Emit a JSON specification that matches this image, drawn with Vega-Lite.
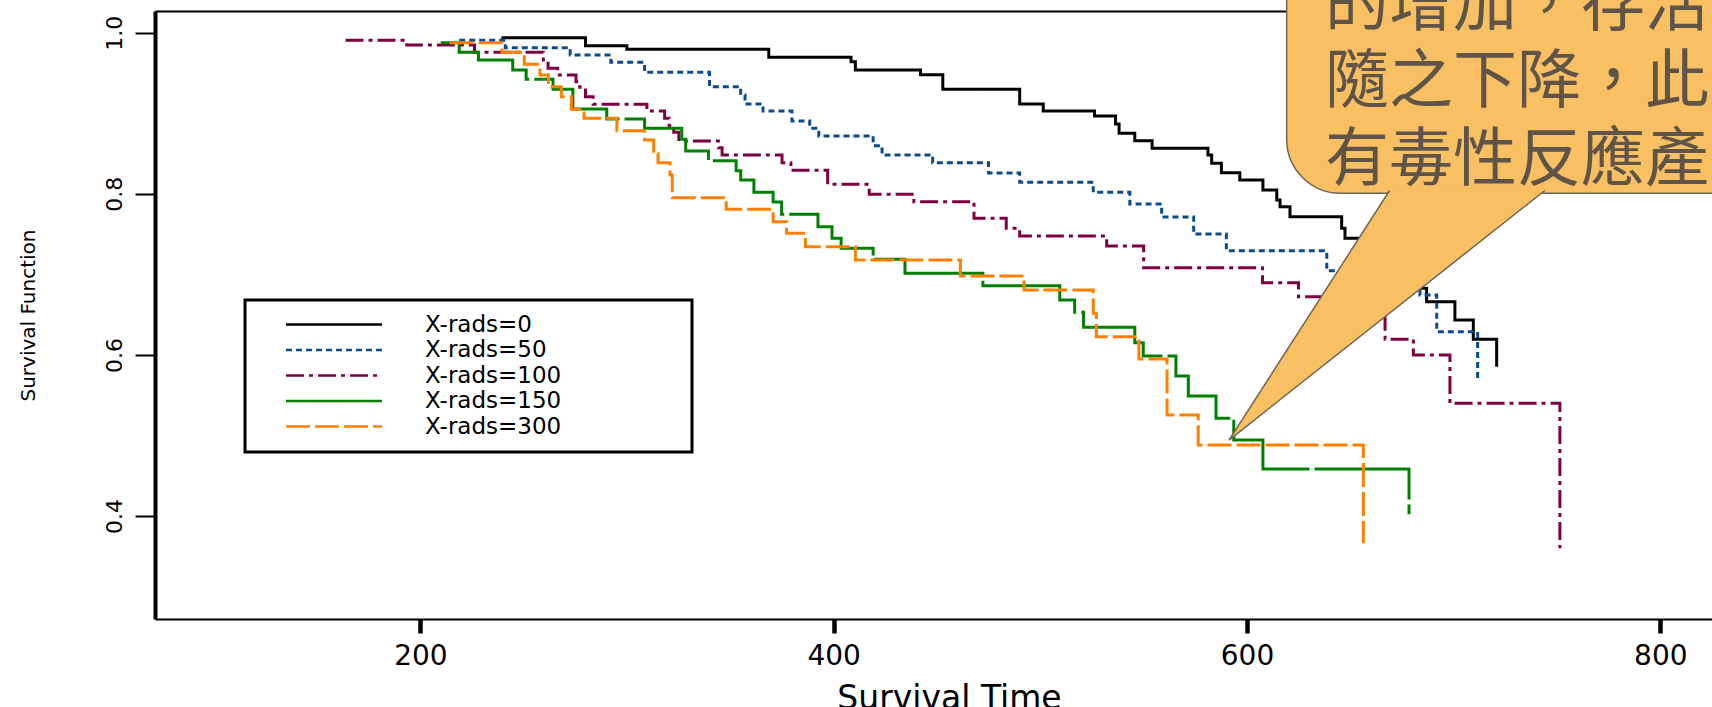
{
"$schema": "https://vega.github.io/schema/vega-lite/v6.json",
"width": 1557, "height": 608,
"autosize": {"type": "none"},
"padding": {"left": 155, "top": 11, "right": 0, "bottom": 88},
"background": "white",
"config": {
  "view": {"stroke": null},
  "axis": {"grid": false, "domainColor": "black", "tickColor": "black", "labelColor": "black", "titleColor": "black", "labelFont": "DejaVu Sans", "titleFont": "DejaVu Sans", "titleFontWeight": "normal", "labelFlush": false, "labelOverlap": false},
  "legend": {"strokeWidth": 3}
},
"datasets": {
  "surv": [
    {"g":"X-rads=0","t":239.2,"S":0.9938},{"g":"X-rads=0","t":279.9,"S":0.9839},{"g":"X-rads=0","t":299.9,"S":0.9794},{"g":"X-rads=0","t":368.6,"S":0.9695},{"g":"X-rads=0","t":408.4,"S":0.964},{"g":"X-rads=0","t":410.5,"S":0.9537},{"g":"X-rads=0","t":442.0,"S":0.9479},{"g":"X-rads=0","t":452.8,"S":0.9298},{"g":"X-rads=0","t":490.0,"S":0.9115},{"g":"X-rads=0","t":501.4,"S":0.9028},{"g":"X-rads=0","t":526.2,"S":0.8966},{"g":"X-rads=0","t":536.4,"S":0.8867},{"g":"X-rads=0","t":538.1,"S":0.8752},{"g":"X-rads=0","t":545.7,"S":0.866},{"g":"X-rads=0","t":554.1,"S":0.8565},{"g":"X-rads=0","t":581.1,"S":0.8482},{"g":"X-rads=0","t":582.9,"S":0.8379},{"g":"X-rads=0","t":587.6,"S":0.8262},{"g":"X-rads=0","t":596.5,"S":0.8172},{"g":"X-rads=0","t":607.7,"S":0.8048},{"g":"X-rads=0","t":614.4,"S":0.7923},{"g":"X-rads=0","t":616.0,"S":0.784},{"g":"X-rads=0","t":620.8,"S":0.7716},{"g":"X-rads=0","t":645.8,"S":0.7572},{"g":"X-rads=0","t":647.4,"S":0.7448},{"g":"X-rads=0","t":659.5,"S":0.7278},{"g":"X-rads=0","t":673.1,"S":0.7079},{"g":"X-rads=0","t":684.5,"S":0.6827},{"g":"X-rads=0","t":686.9,"S":0.666},{"g":"X-rads=0","t":700.6,"S":0.6433},{"g":"X-rads=0","t":709.5,"S":0.6194},{"g":"X-rads=0","t":720.8,"S":0.5854},
    {"g":"X-rads=50","t":218.8,"S":0.9906},{"g":"X-rads=50","t":241.1,"S":0.9814},{"g":"X-rads=50","t":272.5,"S":0.9724},{"g":"X-rads=50","t":292.2,"S":0.9633},{"g":"X-rads=50","t":308.5,"S":0.9509},{"g":"X-rads=50","t":339.9,"S":0.933},{"g":"X-rads=50","t":355.0,"S":0.9227},{"g":"X-rads=50","t":357.1,"S":0.9115},{"g":"X-rads=50","t":365.8,"S":0.9028},{"g":"X-rads=50","t":379.8,"S":0.8904},{"g":"X-rads=50","t":388.4,"S":0.8814},{"g":"X-rads=50","t":392.8,"S":0.8718},{"g":"X-rads=50","t":419.1,"S":0.8598},{"g":"X-rads=50","t":423.4,"S":0.8482},{"g":"X-rads=50","t":447.9,"S":0.8387},{"g":"X-rads=50","t":474.9,"S":0.8259},{"g":"X-rads=50","t":490.0,"S":0.8143},{"g":"X-rads=50","t":525.6,"S":0.8019},{"g":"X-rads=50","t":543.3,"S":0.7874},{"g":"X-rads=50","t":558.7,"S":0.7712},{"g":"X-rads=50","t":574.2,"S":0.7501},{"g":"X-rads=50","t":590.0,"S":0.7294},{"g":"X-rads=50","t":638.6,"S":0.7046},{"g":"X-rads=50","t":664.3,"S":0.6893},{"g":"X-rads=50","t":683.7,"S":0.6744},{"g":"X-rads=50","t":691.8,"S":0.6288},{"g":"X-rads=50","t":711.6,"S":0.5701},
    {"g":"X-rads=100","t":163.8,"S":0.9906},{"g":"X-rads=100","t":193.4,"S":0.9848},{"g":"X-rads=100","t":226.2,"S":0.9757},{"g":"X-rads=100","t":259.5,"S":0.9662},{"g":"X-rads=100","t":261.8,"S":0.9559},{"g":"X-rads=100","t":266.4,"S":0.9475},{"g":"X-rads=100","t":275.3,"S":0.9392},{"g":"X-rads=100","t":277.1,"S":0.9323},{"g":"X-rads=100","t":279.9,"S":0.9206},{"g":"X-rads=100","t":283.6,"S":0.9112},{"g":"X-rads=100","t":309.6,"S":0.9028},{"g":"X-rads=100","t":318.2,"S":0.8938},{"g":"X-rads=100","t":320.4,"S":0.8846},{"g":"X-rads=100","t":322.6,"S":0.8764},{"g":"X-rads=100","t":325.1,"S":0.8656},{"g":"X-rads=100","t":344.2,"S":0.8573},{"g":"X-rads=100","t":346.0,"S":0.8482},{"g":"X-rads=100","t":375.0,"S":0.8387},{"g":"X-rads=100","t":379.3,"S":0.8292},{"g":"X-rads=100","t":397.1,"S":0.8118},{"g":"X-rads=100","t":417.2,"S":0.7995},{"g":"X-rads=100","t":438.8,"S":0.7902},{"g":"X-rads=100","t":467.9,"S":0.7696},{"g":"X-rads=100","t":483.5,"S":0.7572},{"g":"X-rads=100","t":490.0,"S":0.7477},{"g":"X-rads=100","t":532.1,"S":0.7352},{"g":"X-rads=100","t":550.0,"S":0.7083},{"g":"X-rads=100","t":607.5,"S":0.6897},{"g":"X-rads=100","t":624.9,"S":0.6723},{"g":"X-rads=100","t":666.8,"S":0.6194},{"g":"X-rads=100","t":680.5,"S":0.5999},{"g":"X-rads=100","t":698.2,"S":0.5399},{"g":"X-rads=100","t":751.4,"S":0.3599},
    {"g":"X-rads=150","t":209.9,"S":0.9876},{"g":"X-rads=150","t":218.8,"S":0.9757},{"g":"X-rads=150","t":228.1,"S":0.9662},{"g":"X-rads=150","t":244.7,"S":0.9537},{"g":"X-rads=150","t":251.2,"S":0.9422},{"g":"X-rads=150","t":264.2,"S":0.9298},{"g":"X-rads=150","t":273.8,"S":0.9053},{"g":"X-rads=150","t":290.2,"S":0.8929},{"g":"X-rads=150","t":308.5,"S":0.8814},{"g":"X-rads=150","t":326.5,"S":0.8677},{"g":"X-rads=150","t":328.4,"S":0.8532},{"g":"X-rads=150","t":339.4,"S":0.8411},{"g":"X-rads=150","t":352.8,"S":0.8287},{"g":"X-rads=150","t":355.0,"S":0.8172},{"g":"X-rads=150","t":361.4,"S":0.8019},{"g":"X-rads=150","t":370.7,"S":0.7899},{"g":"X-rads=150","t":374.8,"S":0.7746},{"g":"X-rads=150","t":392.4,"S":0.7592},{"g":"X-rads=150","t":399.2,"S":0.7448},{"g":"X-rads=150","t":403.6,"S":0.7324},{"g":"X-rads=150","t":419.1,"S":0.7187},{"g":"X-rads=150","t":434.5,"S":0.7013},{"g":"X-rads=150","t":472.2,"S":0.6859},{"g":"X-rads=150","t":509.4,"S":0.6682},{"g":"X-rads=150","t":516.6,"S":0.6529},{"g":"X-rads=150","t":520.9,"S":0.6343},{"g":"X-rads=150","t":545.7,"S":0.6151},{"g":"X-rads=150","t":549.8,"S":0.5986},{"g":"X-rads=150","t":565.6,"S":0.5738},{"g":"X-rads=150","t":571.6,"S":0.549},{"g":"X-rads=150","t":585.0,"S":0.5213},{"g":"X-rads=150","t":593.6,"S":0.4943},{"g":"X-rads=150","t":607.7,"S":0.4583},{"g":"X-rads=150","t":678.4,"S":0.4021},
    {"g":"X-rads=300","t":214.2,"S":0.9876},{"g":"X-rads=300","t":239.5,"S":0.9757},{"g":"X-rads=300","t":250.3,"S":0.9608},{"g":"X-rads=300","t":257.9,"S":0.9475},{"g":"X-rads=300","t":262.0,"S":0.933},{"g":"X-rads=300","t":268.2,"S":0.9206},{"g":"X-rads=300","t":273.1,"S":0.905},{"g":"X-rads=300","t":279.2,"S":0.8938},{"g":"X-rads=300","t":295.1,"S":0.8784},{"g":"X-rads=300","t":308.5,"S":0.8668},{"g":"X-rads=300","t":312.9,"S":0.85},{"g":"X-rads=300","t":315.0,"S":0.8387},{"g":"X-rads=300","t":320.8,"S":0.8234},{"g":"X-rads=300","t":321.9,"S":0.7952},{"g":"X-rads=300","t":348.0,"S":0.7808},{"g":"X-rads=300","t":370.7,"S":0.7654},{"g":"X-rads=300","t":377.2,"S":0.751},{"g":"X-rads=300","t":386.3,"S":0.7344},{"g":"X-rads=300","t":410.5,"S":0.7178},{"g":"X-rads=300","t":461.3,"S":0.698},{"g":"X-rads=300","t":492.1,"S":0.6806},{"g":"X-rads=300","t":525.6,"S":0.6517},{"g":"X-rads=300","t":527.1,"S":0.6226},{"g":"X-rads=300","t":547.7,"S":0.5949},{"g":"X-rads=300","t":561.3,"S":0.5254},{"g":"X-rads=300","t":576.4,"S":0.4882},{"g":"X-rads=300","t":656.3,"S":0.3661}
  ],
  "box": [{"t": 619.2, "t2": 900, "S": 0.8007, "S2": 1.2}],
  "pointer": [{"i": 1, "t": 669.0, "S": 0.8041}, {"i": 2, "t": 591.3, "S": 0.4943}, {"i": 3, "t": 744.1, "S": 0.8041}],
  "note": [{"t": 637.7, "S": 1.0097, "txt": "的增加，存活率"}, {"t": 637.7, "S": 0.914, "txt": "隨之下降，此外"}, {"t": 637.7, "S": 0.8172, "txt": "有毒性反應產生"}]
},
"resolve": {"axis": {"x": "independent", "y": "independent"}},
"layer": [
  {
    "data": {"name": "surv"},
    "mark": {"type": "line", "interpolate": "step-after", "strokeWidth": 3},
    "encoding": {
      "x": {"field": "t", "type": "quantitative", "scale": {"domain": [71.6, 825], "nice": false, "zero": false},
            "axis": {"orient": "bottom", "values": [200, 400, 600, 800], "title": "Survival Time", "titleFontSize": 33, "titleX": 794, "titleY": 89, "titleBaseline": "alphabetic", "titleAlign": "center", "labelFontSize": 28, "labelPadding": 9, "tickSize": 14, "tickWidth": 4.5, "domainWidth": 2}},
      "y": {"field": "S", "type": "quantitative", "scale": {"domain": [0.2721, 1.027], "nice": false, "zero": false},
            "axis": {"orient": "left", "values": [0.4, 0.6, 0.8, 1.0], "format": ".1f", "title": "Survival Function", "titleFontSize": 20, "titleAngle": 270, "titleX": -127, "titleY": 304, "titleAlign": "center", "titleBaseline": "middle", "labelFontSize": 22, "labelAngle": 270, "labelAlign": "center", "labelBaseline": "bottom", "labelPadding": 9, "tickSize": 20, "tickWidth": 2, "domainWidth": 4}},
      "color": {"field": "g", "type": "nominal",
        "scale": {"domain": ["X-rads=0","X-rads=50","X-rads=100","X-rads=150","X-rads=300"], "range": ["#000000","#0C4A8C","#7D0040","#008000","#FF8000"]},
        "legend": {"title": null, "orient": "none", "legendX": 90, "legendY": 289, "padding": 13, "strokeColor": "black", "fillColor": "white", "symbolType": "stroke", "symbolSize": 9216, "symbolStrokeWidth": 2.5, "symbolOffset": 26.5, "clipHeight": 23, "labelOffset": 41.5, "labelFont": "DejaVu Sans", "labelFontSize": 23, "labelColor": "black", "labelLimit": 600, "rowPadding": 1.5, "labelExpr": "datum.label + '                \u200b'"}},
      "strokeDash": {"field": "g", "type": "nominal",
        "scale": {"domain": ["X-rads=0","X-rads=50","X-rads=100","X-rads=150","X-rads=300"], "range": [[1,0],[6,4],[18,5,4,5],[125,5],[24,5]]},
        "legend": {"title": null, "orient": "none", "legendX": 90, "legendY": 289, "padding": 13, "strokeColor": "black", "fillColor": "white", "symbolType": "stroke", "symbolSize": 9216, "symbolStrokeWidth": 2.5, "symbolOffset": 26.5, "clipHeight": 23, "labelOffset": 41.5, "labelFont": "DejaVu Sans", "labelFontSize": 23, "labelColor": "black", "labelLimit": 600, "rowPadding": 1.5, "labelExpr": "datum.label + '                \u200b'"}}
    }
  },
  {
    "data": {"name": "box"},
    "mark": {"type": "rect", "cornerRadius": 54, "fill": "#F8BF63", "stroke": "#6E6456", "strokeWidth": 1.5},
    "encoding": {
      "x": {"field": "t", "type": "quantitative", "scale": {"domain": [71.6, 825], "nice": false, "zero": false},
            "axis": {"orient": "top", "labels": false, "ticks": false, "title": null, "domainWidth": 2}},
      "x2": {"field": "t2"},
      "y": {"field": "S", "type": "quantitative", "scale": {"domain": [0.2721, 1.027], "nice": false, "zero": false}, "axis": null},
      "y2": {"field": "S2"}
    }
  },
  {
    "data": {"name": "pointer"},
    "mark": {"type": "line", "fill": "#F8BF63", "stroke": "#6E6456", "strokeWidth": 1.5},
    "encoding": {
      "x": {"field": "t", "type": "quantitative", "scale": {"domain": [71.6, 825], "nice": false, "zero": false}, "axis": null},
      "y": {"field": "S", "type": "quantitative", "scale": {"domain": [0.2721, 1.027], "nice": false, "zero": false}, "axis": null},
      "order": {"field": "i", "type": "quantitative"}
    }
  },
  {
    "data": {"name": "note"},
    "mark": {"type": "text", "align": "left", "baseline": "alphabetic", "font": "Noto Sans CJK TC", "fontSize": 64, "color": "#5E5548"},
    "encoding": {
      "x": {"field": "t", "type": "quantitative", "scale": {"domain": [71.6, 825], "nice": false, "zero": false}, "axis": null},
      "y": {"field": "S", "type": "quantitative", "scale": {"domain": [0.2721, 1.027], "nice": false, "zero": false}, "axis": null},
      "text": {"field": "txt"}
    }
  }
]
}
